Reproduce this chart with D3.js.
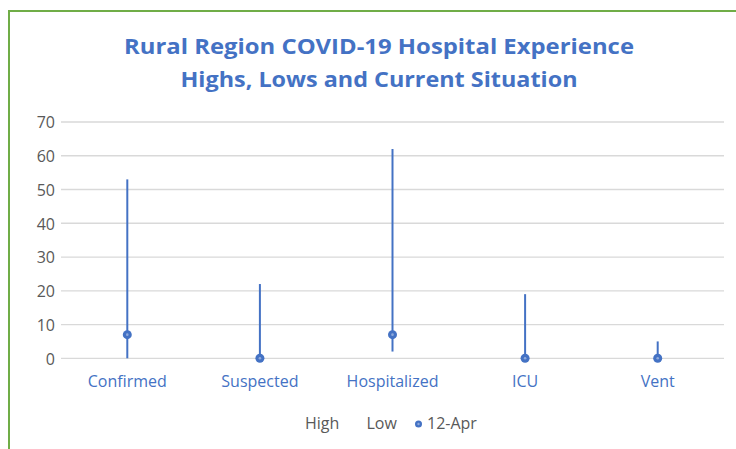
<!DOCTYPE html>
<html><head><meta charset="utf-8">
<script src="https://cdn.jsdelivr.net/npm/d3@7"></script>
<style>body{margin:0;background:#fff}svg{display:block}</style>
</head><body>
<svg id="c" width="736" height="449"></svg>
<script>
const categories = ["Confirmed","Suspected","Hospitalized","ICU","Vent"];
const highs = [53,22,62,19,5];
const lows = [0,0,2,0,0];
const current = [7,0,7,0,0];
const yTicks = [0,10,20,30,40,50,60,70];
const titleLines = ["Rural Region COVID-19 Hospital Experience","Highs, Lows and Current Situation"];
const legendLabels = ["High","Low","12-Apr"];

const svg = d3.select("#c");
const blue = "#4472C4";
const font = "'Open Sans', sans-serif";

// border
svg.append("path").attr("d","M9,449 V11 H736").attr("fill","none").attr("stroke","#70AD47").attr("stroke-width",2);

const x = d3.scaleBand().domain(categories).range([61,724]);
const y = d3.scaleLinear().domain([0,70]).range([358.3,122]);

// title
const tw = [510, 397];
svg.selectAll("text.title").data(titleLines).join("text").attr("class","title")
  .attr("x",379).attr("y",(d,i)=>53.5+i*33.3)
  .attr("text-anchor","middle").attr("font-family",font).attr("font-weight","bold")
  .attr("font-size",21).attr("fill",blue)
  .attr("textLength",(d,i)=>tw[i]).attr("lengthAdjust","spacingAndGlyphs")
  .text(d=>d);

// grid
svg.append("g").selectAll("line").data(yTicks).join("line")
  .attr("x1",61).attr("x2",724).attr("y1",d=>y(d)).attr("y2",d=>y(d))
  .attr("stroke","#d9d9d9").attr("stroke-width",1.3);

// y axis labels
const ya = svg.append("g").attr("transform","translate(55,0)")
  .call(d3.axisLeft(y).tickValues(yTicks).tickSize(0).tickPadding(0));
ya.select(".domain").remove();
ya.selectAll("text").attr("font-family",font).attr("font-size",16).attr("fill","#595959").attr("dy","0.36em");

// x axis labels
const xa = svg.append("g").attr("transform","translate(0,387)")
  .call(d3.axisBottom(x).tickSize(0).tickPadding(0));
xa.select(".domain").remove();
xa.selectAll("text").attr("font-family",font).attr("font-size",16).attr("fill",blue).attr("dy",0);

const data = categories.map((c,i)=>({c,h:highs[i],l:lows[i],v:current[i]}));
// high-low lines
svg.append("g").selectAll("line").data(data).join("line")
  .attr("x1",d=>x(d.c)+x.bandwidth()/2).attr("x2",d=>x(d.c)+x.bandwidth()/2)
  .attr("y1",d=>y(d.h)).attr("y2",d=>y(d.l))
  .attr("stroke",blue).attr("stroke-width",2);
// markers
const mk = svg.append("g").selectAll("g").data(data).join("g")
  .attr("transform",d=>`translate(${x(d.c)+x.bandwidth()/2},${y(d.v)})`);
mk.append("circle").attr("r",4.5).attr("fill",blue);
mk.append("circle").attr("r",1.3).attr("fill","#8faadc");

// legend
const lg = svg.append("g").attr("font-family",font).attr("font-size",16).attr("fill","#595959");
lg.append("text").attr("x",305).attr("y",428.5).text(legendLabels[0]);
lg.append("text").attr("x",366.5).attr("y",428.5).text(legendLabels[1]);
lg.append("circle").attr("cx",418.5).attr("cy",424).attr("r",3.5).attr("fill",blue);
lg.append("circle").attr("cx",418.5).attr("cy",424).attr("r",1.2).attr("fill","#8faadc");
lg.append("text").attr("x",427).attr("y",428.5).text(legendLabels[2]);
</script>
</body></html>
